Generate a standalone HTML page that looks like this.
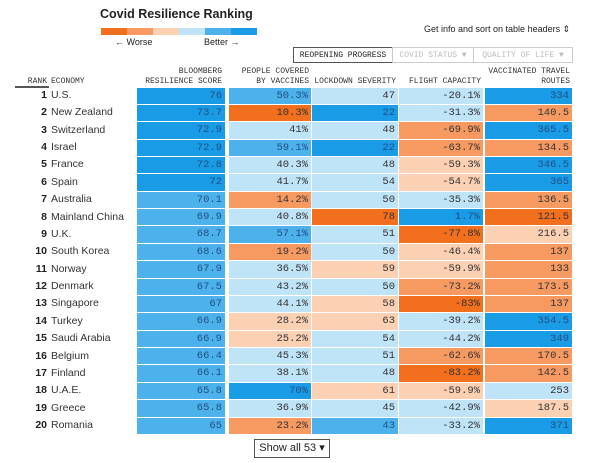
<!DOCTYPE html>
<html><head><meta charset="utf-8"><style>
body{margin:0;width:600px;height:463px;background:#fff;position:relative;overflow:hidden;font-family:"Liberation Sans",sans-serif;color:#222}
.a{position:absolute}
.m{font-family:"Liberation Mono",monospace}
.hd{position:absolute;font-family:"Liberation Mono",monospace;font-size:8px;color:#333;line-height:10px;text-align:right}
.cell{position:absolute;font-family:"Liberation Mono",monospace;font-size:10.5px;text-align:right;box-sizing:border-box;padding-right:3px;line-height:16px}
.tab{position:absolute;top:47px;height:16px;border:1px solid #ccc;font-family:"Liberation Mono",monospace;font-size:8px;line-height:16px;text-align:center;color:#bbb;box-sizing:border-box}
</style></head><body>
<div class="a" style="left:100px;top:7px;font-size:12.5px;font-weight:bold">Covid Resilience Ranking</div>
<div class="a" style="left:101px;top:28px;width:156px;height:7px;display:flex">
<div style="flex:1;background:#f26f1d"></div><div style="flex:1;background:#f79a62"></div><div style="flex:1;background:#fbd0b3"></div><div style="flex:1;background:#bfe3f7"></div><div style="flex:1;background:#4db2ec"></div><div style="flex:1;background:#1a9be6"></div></div>
<div class="a" style="left:115px;top:37px;font-size:9px">← Worse</div>
<div class="a" style="left:204px;top:37px;font-size:9px">Better →</div>
<div class="a" style="left:424px;top:24px;font-size:9px">Get info and sort on table headers ⇕</div>
<div class="tab" style="left:293px;width:100px;border-color:#555;color:#222">REOPENING PROGRESS</div>
<div class="tab" style="left:392px;width:82px">COVID STATUS ▼</div>
<div class="tab" style="left:473px;width:100px">QUALITY OF LIFE ▼</div>
<div class="hd" style="left:15px;top:77px;width:32px">RANK</div>
<div class="hd" style="left:51px;top:77px;text-align:left">ECONOMY</div>
<div class="hd" style="left:120px;top:67px;width:102px">BLOOMBERG<br>RESILIENCE SCORE</div>
<div class="hd" style="left:229px;top:67px;width:80px">PEOPLE COVERED<br>BY VACCINES</div>
<div class="hd" style="left:300px;top:77px;width:96px">LOCKDOWN SEVERITY</div>
<div class="hd" style="left:390px;top:77px;width:91px">FLIGHT CAPACITY</div>
<div class="hd" style="left:470px;top:67px;width:100px">VACCINATED TRAVEL<br>ROUTES</div>
<div class="a" style="left:15px;top:86px;width:34px;height:2px;background:#555"></div>
<div id="tbl"></div>
<div class="a" style="left:254px;top:439px;width:76px;height:19px;border:1px solid #555;box-sizing:border-box;font-size:11px;line-height:17px;text-align:center">Show all 53 ▾</div>
<script>
const economies=["U.S.","New Zealand","Switzerland","Israel","France","Spain","Australia","Mainland China","U.K.","South Korea","Norway","Denmark","Singapore","Turkey","Saudi Arabia","Belgium","Finland","U.A.E.","Greece","Romania"];
const scores=["76","73.7","72.9","72.9","72.8","72","70.1","69.9","68.7","68.6","67.9","67.5","67","66.9","66.9","66.4","66.1","65.8","65.8","65"];
const vaccines=["50.3%","10.3%","41%","59.1%","40.3%","41.7%","14.2%","40.8%","57.1%","19.2%","36.5%","43.2%","44.1%","28.2%","25.2%","45.3%","38.1%","70%","36.9%","23.2%"];
const lockdown=["47","22","48","22","48","54","50","78","51","50","59","50","58","63","54","51","48","61","45","43"];
const flight=["-20.1%","-31.3%","-69.9%","-63.7%","-59.3%","-54.7%","-35.3%","1.7%","-77.8%","-46.4%","-59.9%","-73.2%","-83%","-39.2%","-44.2%","-62.6%","-83.2%","-59.9%","-42.9%","-33.2%"];
const routes=["334","140.5","365.5","134.5","346.5","365","136.5","121.5","216.5","137","133","173.5","137","354.5","349","170.5","142.5","253","187.5","371"];
const scoreLv=[5,5,5,5,5,5,4,4,4,4,4,4,4,4,4,4,4,4,4,4];
const vacLv=[4,0,3,4,3,3,1,3,4,1,3,3,3,2,2,3,3,5,3,1];
const lockLv=[3,5,3,5,3,3,3,0,3,3,2,3,2,2,3,3,3,2,3,4];
const flightLv=[3,3,1,1,2,2,3,5,0,2,2,1,0,3,3,1,0,2,3,3];
const routeLv=[5,1,5,1,5,5,1,0,2,1,1,1,1,5,5,1,1,3,2,5];
const colors=["#f26f1d","#f79a62","#fbd0b3","#bfe3f7","#4db2ec","#1a9be6"];
const cols=[{v:scores,l:scoreLv,x:137,w:88,n:"score"},{v:vaccines,l:vacLv,x:229,w:82,n:"vaccines"},{v:lockdown,l:lockLv,x:312,w:86,n:"lockdown"},{v:flight,l:flightLv,x:399,w:84,n:"flight"},{v:routes,l:routeLv,x:485,w:87,n:"routes"}];
const tbl=document.getElementById('tbl');
const top0=87,rh=17.37;
economies.forEach((e,i)=>{
  const y=top0+i*rh;
  const r=document.createElement('div');r.className='a';
  
  
  r.style.cssText=`left:15px;top:${y}px;width:32px;text-align:right;font-weight:bold;font-size:10.5px;line-height:17px`;
  r.textContent=i+1;tbl.appendChild(r);
  const n=document.createElement('div');n.className='a';
  
  
  n.style.cssText=`left:51px;top:${y}px;font-size:10.5px;line-height:17px;color:#333`;
  n.textContent=e;tbl.appendChild(n);
  cols.forEach(c=>{
    const d=document.createElement('div');d.className='cell';
    
    
    const lv=c.l[i];
    d.style.cssText+=`left:${c.x}px;top:${y+0.5}px;width:${c.w}px;height:${rh-1}px;background:${colors[lv]};color:${lv==5||lv==4?'#1d4f86':'#333'}`;
    d.textContent=c.v[i];tbl.appendChild(d);
  });
});
</script>
</body></html>
